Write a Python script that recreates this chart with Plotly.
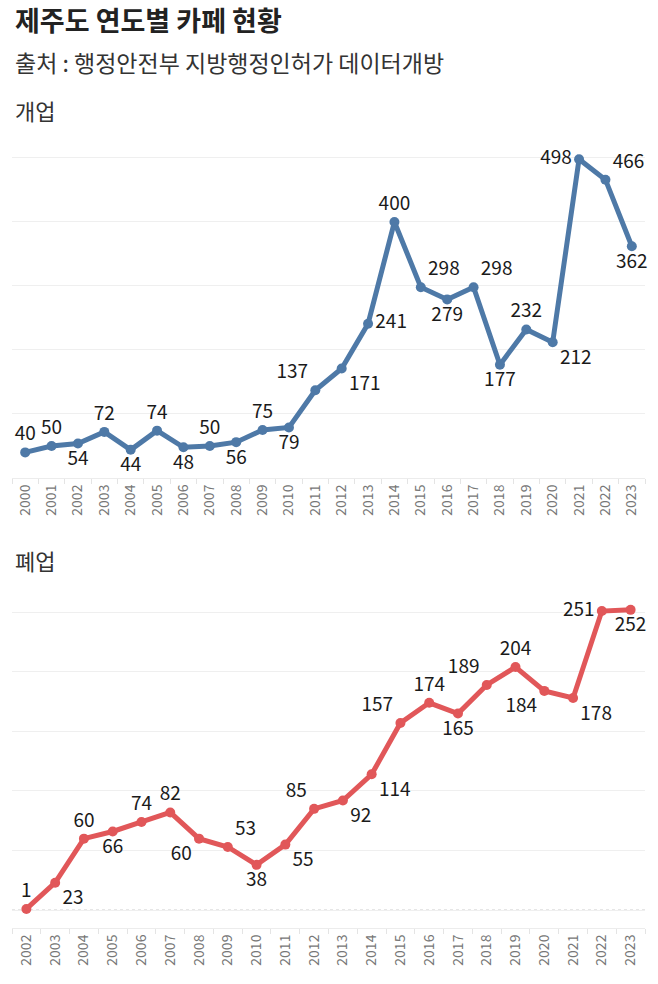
import plotly.graph_objects as go

# ---- data ----
open_years = [str(y) for y in range(2000, 2024)]
open_values = [40, 50, 54, 72, 44, 74, 48, 50, 56, 75, 79, 137, 171, 241,
               400, 298, 279, 298, 177, 232, 212, 498, 466, 362]

close_years = [str(y) for y in range(2002, 2024)]
close_values = [1, 23, 60, 66, 74, 82, 60, 53, 38, 55, 85, 92, 114, 157,
                174, 165, 189, 204, 184, 178, 251, 252]

title_text = "제주도 연도별 카페 현황"
subtitle_text = "출처 : 행정안전부 지방행정인허가 데이터개방"
open_label = "개업"
close_label = "폐업"

# ---- label placement (style) ----
open_pos = ["top center", "top center", "bottom center", "top center", "bottom center",
            "top center", "bottom center", "top center", "bottom center", "top center",
            "bottom center", "top left", "bottom right", "middle right", "top center",
            "top right", "bottom center", "top right", "bottom center", "top center",
            "bottom right", "middle left", "top right", "bottom center"]
close_pos = ["top center", "bottom right", "top center", "bottom center", "top center",
             "top center", "bottom left", "top right", "bottom center", "bottom right",
             "top left", "bottom right", "bottom right", "top left", "top center",
             "bottom center", "top left", "top center", "bottom left", "bottom right",
             "middle left", "bottom center"]

FONT = "Noto Sans CJK KR"
BLUE = "#4e79a7"
RED = "#e15759"
H = 984
W = 658

fig = go.Figure()
fig.add_trace(go.Scatter(
    x=open_years, y=open_values, mode="lines+markers+text",
    text=[str(v) for v in open_values], textposition=open_pos,
    textfont=dict(size=19, color="#1a1a1a", family=FONT),
    line=dict(color=BLUE, width=5), marker=dict(color=BLUE, size=10),
    cliponaxis=False, xaxis="x", yaxis="y", showlegend=False, hoverinfo="x+y"))
fig.add_trace(go.Scatter(
    x=close_years, y=close_values, mode="lines+markers+text",
    text=[str(v) for v in close_values], textposition=close_pos,
    textfont=dict(size=19, color="#1a1a1a", family=FONT),
    line=dict(color=RED, width=5), marker=dict(color=RED, size=10),
    cliponaxis=False, xaxis="x2", yaxis="y2", showlegend=False, hoverinfo="x+y"))

xdom = [12 / W, 645 / W]
top_dom = [1 - 478 / H, 1 - 140 / H]
bot_dom = [1 - 928 / H, 1 - 592 / H]

common_x = dict(type="category", tickangle=-90, tickfont=dict(size=14, color="#777777", family=FONT),
                showgrid=False, showline=True, linecolor="#ececec", linewidth=1,
                ticks="outside", tickson="boundaries", ticklen=5, tickcolor="#e4e4e4",
                fixedrange=True)
common_y = dict(showticklabels=False, showline=False, gridcolor="#efefef", gridwidth=1,
                ticks="", zeroline=False, fixedrange=True)

fig.update_layout(
    width=W, height=H, paper_bgcolor="white", plot_bgcolor="white",
    margin=dict(l=0, r=0, t=0, b=0),
    font=dict(family=FONT),
    xaxis=dict(domain=xdom, anchor="y", range=[-0.5, 23.5], **common_x),
    yaxis=dict(domain=top_dom, anchor="x", range=[0, 528], tick0=0, dtick=100, **common_y),
    xaxis2=dict(domain=xdom, anchor="y2", range=[-0.5, 21.5], **common_x),
    yaxis2=dict(domain=bot_dom, anchor="x2", range=[-15, 267], tick0=0, dtick=50, **common_y),
    annotations=[
        dict(text=title_text, x=13 / W, y=1 - 20 / H, xref="paper", yref="paper",
             xanchor="left", yanchor="middle", showarrow=False,
             font=dict(size=27, color="#222222", family=FONT, weight="bold")),
        dict(text=subtitle_text, x=13 / W, y=1 - 62 / H, xref="paper", yref="paper",
             xanchor="left", yanchor="middle", showarrow=False,
             font=dict(size=23, color="#333333", family=FONT)),
        dict(text=open_label, x=13 / W, y=1 - 110 / H, xref="paper", yref="paper",
             xanchor="left", yanchor="middle", showarrow=False,
             font=dict(size=22, color="#333333", family=FONT)),
        dict(text=close_label, x=13 / W, y=1 - 560 / H, xref="paper", yref="paper",
             xanchor="left", yanchor="middle", showarrow=False,
             font=dict(size=22, color="#333333", family=FONT)),
    ],
    shapes=[
        dict(type="line", xref="x2 domain", yref="y2", x0=0, x1=1, y0=0, y1=0,
             line=dict(color="#bbbbbb", width=1, dash="dot"), layer="below"),
    ],
)

fig.write_html("out.html", config={"displayModeBar": False},
               post_script="document.body.style.margin='0';")
